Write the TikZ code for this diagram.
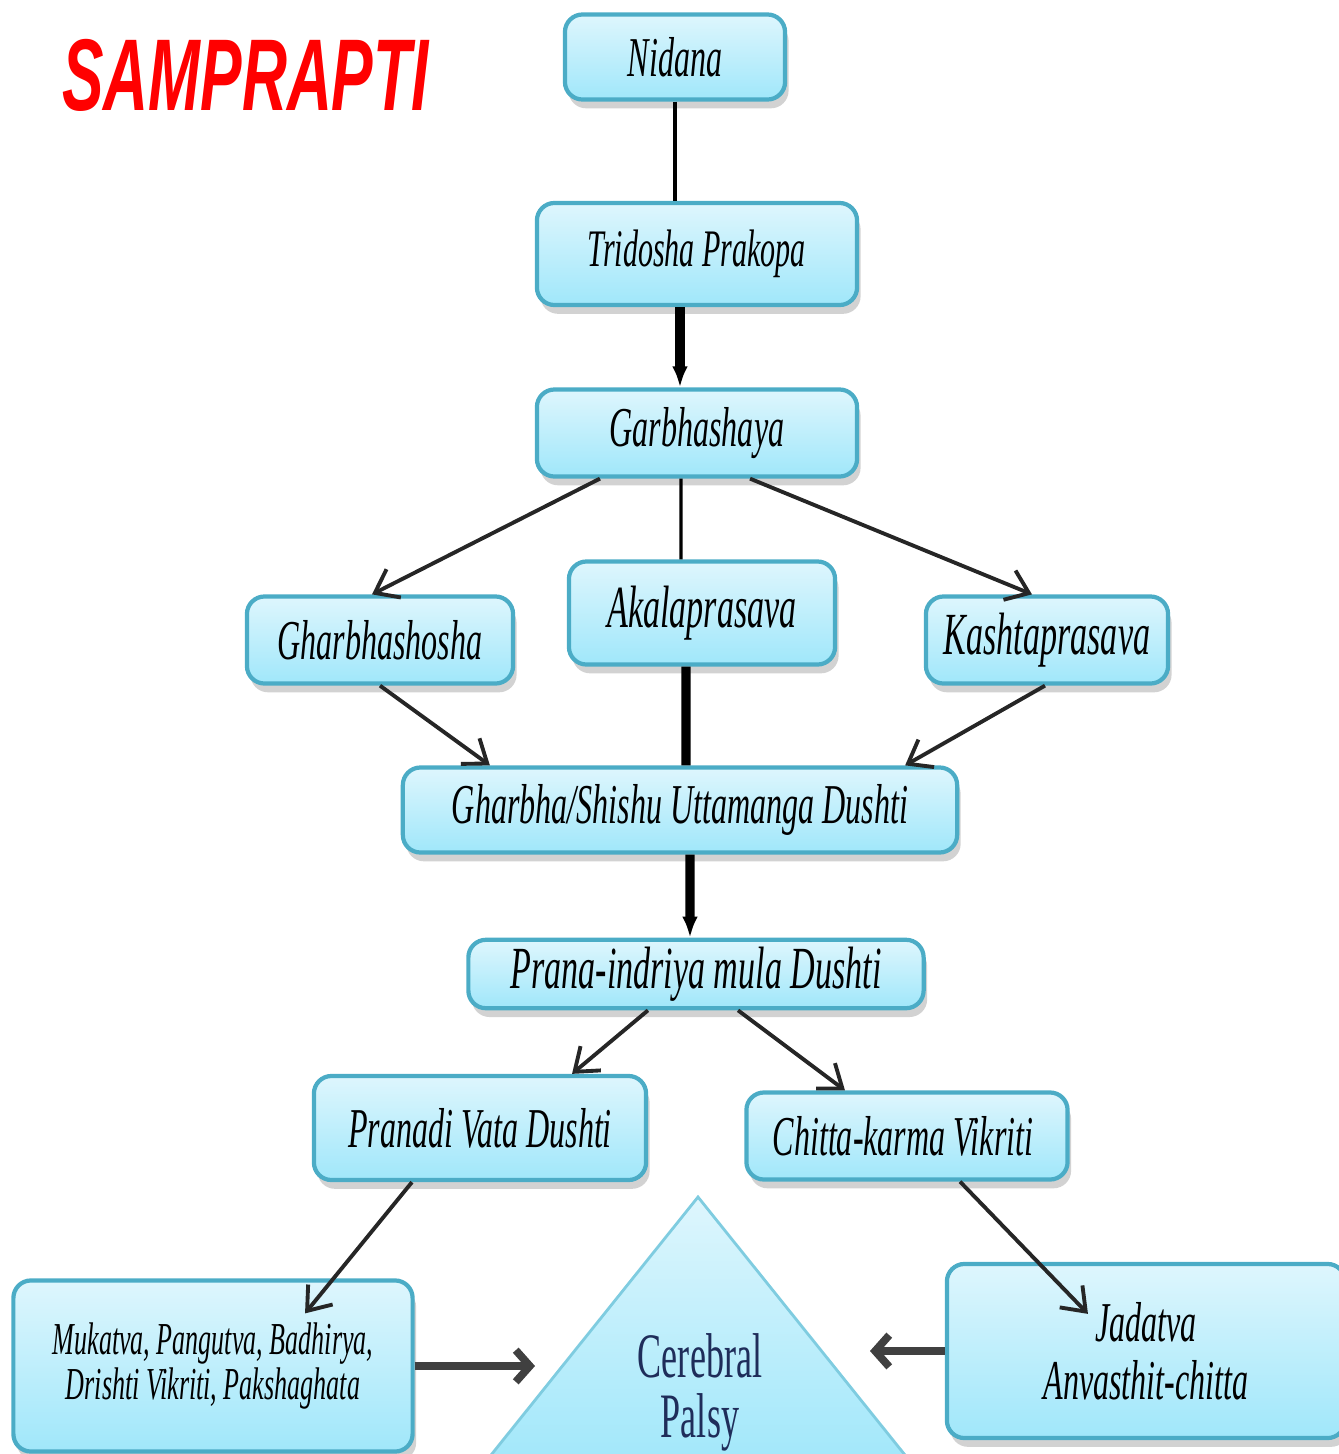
\documentclass[tikz,border=0pt]{standalone}
\usepackage{fontspec}
\newfontfamily\condfont[FakeStretch=0.57]{Liberation Serif}
\newfontfamily\titlefont[FakeStretch=0.61]{Liberation Sans}
\usetikzlibrary{
  arrows.meta, shadows,
}
\definecolor{boxline}{HTML}{4BACC6}
\definecolor{boxtop}{HTML}{DEF6FD}
\definecolor{boxbot}{HTML}{A0E7FA}
\definecolor{trline}{HTML}{7FCCE0}
\definecolor{cptext}{HTML}{1F2D5A}

\begin{document}
\begin{tikzpicture}[
    x=0.01cm, y=-0.01cm,
    box/.style={
        rectangle, rounded corners=5pt,
        draw=boxline, line width=1.2pt,
        top color=boxtop, bottom color=boxbot,
        drop shadow={shadow xshift=1pt, shadow yshift=-2.5pt, fill=black!35},
        align=center, inner sep=2pt,
      },
    lnk/.style={
        black, line width=0.9pt,
      },
    fat/.style={
        black, line width=2.6pt,
      },
    arr/.style={
        black!85, line width=1.1pt, -{Straight Barb[length=6pt,width=9pt]},
      },
    side/.style={
        black!75, line width=2.2pt, -{Straight Barb[length=4pt,width=9pt]},
      }
  ]
  \useasboundingbox (0,0) rectangle (1339,1454);

  \node[anchor=base west, text=red,
    font=\titlefont\bfseries\itshape\fontsize{29}{29}\selectfont] (title) at (50,110) {SAMPRAPTI};

  % triangle
  \coordinate (apex) at (698,1197);
  \filldraw[draw=trline, line width=0.8pt, top color=boxtop, bottom color=boxbot]
    (apex) -- (917,1470) -- (479,1470) -- cycle;
  \node[text=cptext, align=center,
    font=\condfont\fontsize{18}{17}\selectfont] (cp) at (700,1392) {Cerebral\\Palsy};

  \foreach \n/\x/\y/\w/\h/\s/\t in {
      nid/675/57/2.20/0.85/16/Nidana,
      tri/697/254/3.20/1.02/15/Tridosha Prakopa,
      garbha/697/433/3.20/0.87/16/Garbhashaya,
      shosha/380/640/2.66/0.87/16/Gharbhashosha,
      akala/702/613/2.66/1.03/17/Akalaprasava,
      kashta/1047/640/2.42/0.87/17/Kashtaprasava,
      uttam/680/810/5.54/0.85/16/Gharbha\slash Shishu Uttamanga Dushti,
      prana/696/974/4.55/0.68/17/Prana-indriya mula Dushti,
      vata/480/1128/3.32/1.04/16/Pranadi Vata Dushti,
      chitta/907/1136/3.21/0.87/16/Chitta-karma Vikriti
    }{
      \node[box, minimum width=\w cm, minimum height=\h cm,
        font=\condfont\itshape\fontsize{\s}{\s}\selectfont] (\n) at (\x,\y) {\t};
    }

  \node[box, minimum width=3.99cm, minimum height=1.71cm,
    font=\condfont\itshape\fontsize{13}{13}\selectfont] (mukatva) at (213,1366)
    {Mukatva, Pangutva, Badhirya,\\Drishti Vikriti, Pakshaghata};
  \node[box, minimum width=3.98cm, minimum height=1.74cm,
    font=\condfont\itshape\fontsize{16}{16.5}\selectfont] (jadatva) at (1146,1351)
    {Jadatva\\Anvasthit-chitta};

  \coordinate (cpl) at (535,1366);
  \coordinate (cpr) at (870,1351);

  % connectors
  \draw[lnk] (nid.south) -- (nid.south |- tri.north);
  \draw[fat, -{Latex[length=6pt]}] ([xshift=-0.17cm]tri.south) -- ([xshift=-0.17cm]garbha.north);
  \draw[arr] ([xshift=-0.97cm]garbha.south) -- ([xshift=-0.08cm]shosha.north);
  \draw[lnk] ([xshift=-0.16cm]garbha.south) -- ([xshift=-0.21cm]akala.north);
  \draw[arr] ([xshift=0.53cm]garbha.south) -- ([xshift=-0.15cm]kashta.north);
  \draw[arr] (shosha.south) -- ([xshift=-1.90cm]uttam.north);
  \draw[fat] ([xshift=-0.16cm]akala.south) -- ([xshift=0.06cm]uttam.north);
  \draw[arr] ([xshift=-0.02cm]kashta.south) -- ([xshift=2.25cm]uttam.north);
  \draw[fat, -{Latex[length=6pt]}] ([xshift=0.10cm]uttam.south) -- ([xshift=-0.06cm]prana.north);
  \draw[arr] ([xshift=-0.48cm]prana.south) -- ([xshift=0.92cm]vata.north);
  \draw[arr] ([xshift=0.42cm]prana.south) -- ([xshift=-0.62cm]chitta.north);
  \draw[arr] ([xshift=-0.68cm]vata.south) -- ([xshift=0.92cm, yshift=-0.35cm]mukatva.north);
  \draw[arr] ([xshift=0.53cm]chitta.south) -- ([xshift=-0.58cm, yshift=-0.52cm]jadatva.north);
  \draw[side] (mukatva.east) -- (cpl);
  \draw[side] (jadatva.west) -- (cpr);
\end{tikzpicture}
\end{document}
